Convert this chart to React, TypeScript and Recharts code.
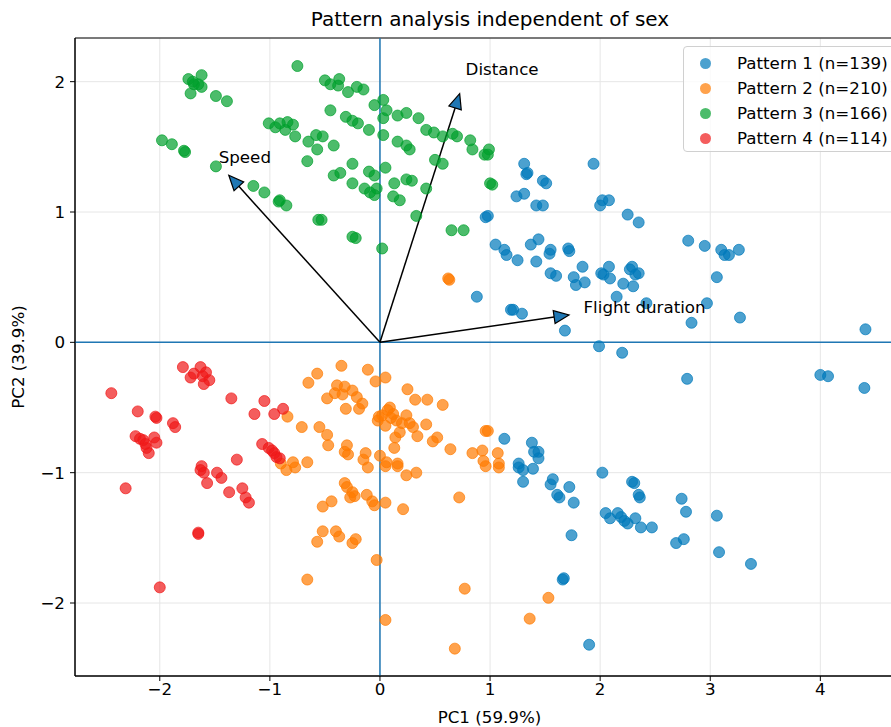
import { ScatterChart, Scatter, XAxis, YAxis, CartesianGrid, ReferenceLine, ReferenceArea, ReferenceDot } from 'recharts'

const FONT = '"DejaVu Sans", sans-serif'
const FS = 16.7

const seriesNames = ['Pattern 1 (n=139)', 'Pattern 2 (n=210)', 'Pattern 3 (n=166)', 'Pattern 4 (n=114)']
const seriesColors = ['#0079bb', '#ff7a00', '#00a02c', '#f01818']

const pattern1: [number, number][] = [
  [0.96, 0.96], [0.98, 0.97], [1.31, 1.37], [1.33, 1.29], [1.34, 1.3], [1.48, 1.24], [1.51, 1.22],
  [1.24, 1.12], [1.31, 1.14], [1.42, 1.05], [1.48, 1.05], [1.94, 1.37], [2.02, 1.09], [2.08, 1.09],
  [2.0, 1.05], [2.25, 0.98], [2.35, 0.92], [1.05, 0.75], [1.13, 0.71], [1.37, 0.75], [1.44, 0.79],
  [1.55, 0.71], [1.71, 0.72], [1.72, 0.7], [2.8, 0.78], [2.95, 0.74], [3.1, 0.71], [3.26, 0.71],
  [1.15, 0.67], [1.25, 0.63], [1.42, 0.62], [1.54, 0.68], [1.55, 0.53], [1.6, 0.51], [1.76, 0.5],
  [1.78, 0.44], [1.86, 0.46], [1.84, 0.58], [2.01, 0.53], [2.08, 0.58], [2.09, 0.49], [2.03, 0.52],
  [2.27, 0.56], [2.32, 0.52], [2.21, 0.45], [2.3, 0.43], [2.35, 0.53], [2.29, 0.58], [2.15, 0.35],
  [2.42, 0.3], [1.19, 0.25], [1.21, 0.25], [1.29, 0.22], [1.68, 0.09], [1.99, -0.03], [2.2, -0.08],
  [2.79, -0.28], [2.83, 0.15], [3.13, 0.67], [3.17, 0.67], [3.06, 0.5], [2.97, 0.3], [3.27, 0.19],
  [4.41, 0.1], [4.0, -0.25], [4.07, -0.26], [4.4, -0.35], [0.88, 0.35], [1.13, -0.74], [1.38, -0.77],
  [1.4, -0.84], [1.44, -0.84], [1.44, -0.89], [1.26, -0.93], [1.26, -0.96], [1.3, -0.98], [1.39, -0.97],
  [1.3, -1.07], [1.55, -1.09], [1.57, -1.05], [1.61, -1.17], [1.63, -1.19], [1.72, -1.11], [1.76, -1.23],
  [1.74, -1.48], [1.66, -1.82], [1.67, -1.81], [1.9, -2.32], [2.02, -1.0], [2.05, -1.31], [2.09, -1.35],
  [2.16, -1.31], [2.19, -1.34], [2.22, -1.37], [2.25, -1.39], [2.32, -1.35], [2.37, -1.42], [2.47, -1.42],
  [2.29, -1.07], [2.31, -1.08], [2.35, -1.17], [2.36, -1.19], [2.74, -1.2], [2.78, -1.3], [2.69, -1.54],
  [2.76, -1.51], [3.06, -1.33], [3.08, -1.61], [3.37, -1.7],
]

const pattern2: [number, number][] = [
  [0.63, 0.48], [0.62, 0.49], [-0.35, -0.18], [-0.11, -0.21], [-0.57, -0.24], [-0.65, -0.31], [-0.04, -0.3],
  [0.05, -0.27], [-0.39, -0.33], [-0.32, -0.34], [-0.25, -0.37], [-0.21, -0.42], [-0.16, -0.47], [-0.48, -0.43],
  [-0.41, -0.39], [-0.34, -0.4], [-0.31, -0.51], [-0.19, -0.51], [0.25, -0.36], [0.32, -0.44], [0.43, -0.44],
  [0.57, -0.48], [0.09, -0.5], [0.12, -0.55], [0.02, -0.56], [-0.02, -0.6], [0.05, -0.64], [0.15, -0.6],
  [0.24, -0.56], [0.27, -0.62], [0.3, -0.65], [0.18, -0.69], [0.34, -0.72], [0.42, -0.63], [0.14, -0.73],
  [0.13, -0.81], [0.52, -0.73], [0.48, -0.76], [0.64, -0.82], [0.07, -0.52], [0.1, -0.58], [0.2, -0.62],
  [-0.01, -0.57], [-0.84, -0.57], [-0.71, -0.65], [-0.55, -0.65], [-0.48, -0.71], [-0.47, -0.79], [-0.3, -0.79],
  [-0.32, -0.84], [-0.29, -0.86], [-0.13, -0.85], [-0.15, -0.9], [0.0, -0.87], [-0.79, -0.92], [-0.66, -0.92],
  [0.84, -0.85], [0.93, -0.83], [0.96, -0.68], [0.94, -0.91], [0.06, -0.92], [0.16, -0.93], [-0.77, -0.96],
  [-0.11, -0.96], [0.05, -0.95], [0.16, -0.95], [0.24, -1.02], [0.33, -1.0], [-0.32, -1.08], [-0.3, -1.11],
  [-0.25, -1.15], [-0.23, -1.18], [-0.27, -1.19], [-0.12, -1.17], [-0.07, -1.22], [-0.05, -1.25], [0.05, -1.23],
  [0.21, -1.28], [-0.44, -1.22], [-0.52, -1.26], [0.72, -1.19], [-0.52, -1.45], [-0.4, -1.45], [-0.37, -1.49],
  [-0.57, -1.53], [-0.25, -1.54], [-0.22, -1.51], [-0.03, -1.67], [-0.66, -1.82], [0.77, -1.89], [0.05, -2.13],
  [0.68, -2.35], [1.08, -0.96], [0.96, -0.95], [1.53, -1.96], [1.36, -2.12], [0.98, -0.68], [1.07, -0.85],
  [1.08, -0.93], [-0.9, -0.93], [-0.85, -0.98],
]

const pattern3: [number, number][] = [
  [-1.74, 2.02], [-1.69, 1.98], [-1.62, 2.05], [-1.62, 1.96], [-1.72, 1.91], [-1.65, 1.98], [-1.7, 2.0],
  [-1.49, 1.89], [-1.39, 1.85], [-1.01, 1.68], [-0.95, 1.65], [-1.98, 1.55], [-1.89, 1.52], [-1.78, 1.47],
  [-1.77, 1.46], [-1.49, 1.35], [-1.15, 1.2], [-1.05, 1.15], [-0.92, 1.08], [-0.75, 2.12], [-0.5, 2.01],
  [-0.45, 1.98], [-0.37, 2.02], [-0.38, 1.97], [-0.29, 1.92], [-0.21, 1.96], [-0.15, 1.94], [-0.05, 1.82],
  [0.03, 1.86], [0.06, 1.78], [0.03, 1.72], [-0.45, 1.78], [-0.31, 1.73], [-0.25, 1.7], [-0.2, 1.68],
  [-0.1, 1.63], [0.16, 1.74], [0.24, 1.76], [0.35, 1.72], [-0.84, 1.69], [-0.79, 1.67], [-0.86, 1.63],
  [-0.77, 1.58], [-0.91, 1.68], [-0.65, 1.54], [-0.58, 1.59], [-0.52, 1.58], [-0.57, 1.48], [-0.42, 1.51],
  [0.03, 1.59], [0.16, 1.54], [0.24, 1.51], [0.27, 1.48], [0.42, 1.63], [0.49, 1.61], [0.57, 1.58],
  [0.66, 1.6], [0.7, 1.58], [0.82, 1.55], [0.84, 1.48], [0.95, 1.44], [-0.66, 1.39], [-0.25, 1.37],
  [-0.42, 1.28], [-0.36, 1.3], [-0.25, 1.22], [-0.1, 1.31], [-0.05, 1.28], [0.05, 1.34], [-0.14, 1.18],
  [-0.09, 1.15], [-0.05, 1.13], [-0.03, 1.18], [0.13, 1.22], [0.12, 1.12], [0.18, 1.09], [0.24, 1.25],
  [0.29, 1.24], [0.42, 1.18], [0.5, 1.4], [0.57, 1.37], [-0.91, 1.09], [-0.85, 1.05], [-0.56, 0.94],
  [-0.53, 0.94], [0.33, 0.97], [0.65, 0.86], [0.76, 0.86], [-0.25, 0.81], [-0.22, 0.8], [0.02, 0.72],
  [0.99, 1.48], [0.98, 1.44], [1.02, 1.21], [1.0, 1.22],
]

const pattern4: [number, number][] = [
  [-2.44, -0.39], [-1.79, -0.19], [-1.72, -0.27], [-1.63, -0.19], [-1.58, -0.23], [-1.55, -0.29], [-1.6, -0.32],
  [-1.69, -0.24], [-1.61, -0.26], [-1.35, -0.43], [-2.2, -0.53], [-2.03, -0.58], [-2.04, -0.57], [-1.88, -0.62],
  [-1.86, -0.65], [-2.22, -0.72], [-2.15, -0.75], [-2.12, -0.81], [-2.1, -0.85], [-2.05, -0.73], [-2.03, -0.77],
  [-2.18, -0.74], [-2.13, -0.78], [-1.14, -0.55], [-1.05, -0.45], [-0.96, -0.55], [-0.88, -0.51], [-1.07, -0.78],
  [-1.01, -0.81], [-0.96, -0.85], [-0.94, -0.88], [-0.98, -0.83], [-0.91, -0.89], [-1.3, -0.9], [-1.62, -0.95],
  [-2.31, -1.12], [-1.63, -0.98], [-1.6, -1.0], [-1.57, -1.08], [-1.48, -1.0], [-1.44, -1.04], [-1.37, -1.15],
  [-1.25, -1.12], [-1.22, -1.19], [-1.19, -1.23], [-1.65, -1.47], [-1.65, -1.46], [-2.0, -1.88],
]

const patterns = [pattern1, pattern2, pattern3, pattern4]

// loading vectors drawn as arrows from the origin
const loadingNames = ['Speed', 'Distance', 'Flight duration']
const loadingX = [-1.373, 0.724, 1.717]
const loadingY = [1.282, 1.908, 0.21]
const labelX = [-1.465, 0.778, 1.849]
const labelY = [1.376, 2.051, 0.225]

const xTicks = [-2, -1, 0, 1, 2, 3, 4]
const yTicks = [-2, -1, 0, 1, 2]
const X_DOMAIN: [number, number] = [-2.77, 4.76]
const Y_DOMAIN: [number, number] = [-2.56, 2.335]

const fmt = (v: number) => String(v).replace('-', '\u2212')

function Dot(color: string) {
  return (p: any) => (
    <circle cx={p.cx} cy={p.cy} r={5.5} fill={color} fillOpacity={0.7} stroke={color} strokeOpacity={0.7} strokeWidth={1} />
  )
}

function Arrow(props: any) {
  const { x1, y1, x2, y2 } = props
  const dx = x2 - x1
  const dy = y2 - y1
  const len = Math.hypot(dx, dy)
  const ux = dx / len
  const uy = dy / len
  const hl = 15
  const hw = 6.5
  const bx = x2 - ux * hl
  const by = y2 - uy * hl
  const pts = `${x2},${y2} ${bx - uy * hw},${by + ux * hw} ${bx + uy * hw},${by - ux * hw}`
  return (
    <g>
      <line x1={x1} y1={y1} x2={bx} y2={by} stroke="#000" strokeWidth={1.5} />
      <polygon points={pts} fill="#1f77b4" stroke="#000" strokeWidth={1.2} />
    </g>
  )
}

export default function App() {
  return (
    <div style={{ position: 'fixed', left: 0, top: 0, width: 891, height: 727, overflow: 'hidden', background: '#fff', fontFamily: FONT }}>
      <div style={{ position: 'absolute', left: 190, width: 600, top: 7, textAlign: 'center', fontSize: 20, lineHeight: '24px', color: '#000' }}>
        Pattern analysis independent of sex
      </div>
      <ScatterChart width={930} height={727} margin={{ top: 38, right: 26, bottom: 0, left: 0 }}>
        <CartesianGrid stroke="#e6e6e6" strokeWidth={1} />
        <ReferenceArea x1={X_DOMAIN[0]} x2={X_DOMAIN[1]} y1={Y_DOMAIN[0]} y2={Y_DOMAIN[1]} fill="none" stroke="#000" strokeWidth={1} />
        <XAxis
          type="number"
          dataKey="x"
          domain={X_DOMAIN}
          ticks={xTicks}
          allowDataOverflow
          height={51}
          tickFormatter={fmt}
          tickSize={5}
          tickMargin={2}
          axisLine={{ stroke: '#000' }}
          tickLine={{ stroke: '#000' }}
          tick={{ fill: '#000', fontSize: FS, fontFamily: FONT }}
          label={{ value: 'PC1 (59.9%)', position: 'insideBottom', offset: 4, fill: '#000', fontSize: FS, fontFamily: FONT }}
        />
        <YAxis
          type="number"
          dataKey="y"
          domain={Y_DOMAIN}
          ticks={yTicks}
          allowDataOverflow
          width={75}
          tickFormatter={fmt}
          tickSize={5}
          tickMargin={5}
          axisLine={{ stroke: '#000' }}
          tickLine={{ stroke: '#000' }}
          tick={{ fill: '#000', fontSize: FS, fontFamily: FONT }}
          label={{ value: 'PC2 (39.9%)', angle: -90, position: 'insideLeft', offset: 18, fill: '#000', fontSize: FS, fontFamily: FONT, style: { textAnchor: 'middle' } }}
        />
        {patterns.map((pts, i) => (
          <Scatter
            key={seriesNames[i]}
            name={seriesNames[i]}
            data={pts.map(([x, y]) => ({ x, y }))}
            fill={seriesColors[i]}
            shape={Dot(seriesColors[i])}
            isAnimationActive={false}
          />
        ))}
        <ReferenceLine y={0} stroke="#1f77b4" strokeWidth={1.5} />
        <ReferenceLine x={0} stroke="#1f77b4" strokeWidth={1.5} />
        {loadingNames.map((n, i) => (
          <ReferenceLine
            key={n}
            segment={[{ x: 0, y: 0 }, { x: loadingX[i], y: loadingY[i] }]}
            shape={Arrow}
          />
        ))}
        {loadingNames.map((n, i) => (
          <ReferenceDot
            key={'l' + n}
            x={labelX[i]}
            y={labelY[i]}
            r={0}
            shape={(p: any) => (
              <text x={p.cx} y={p.cy} fontSize={FS} fontFamily={FONT} fill="#000">
                {n}
              </text>
            )}
          />
        ))}
      </ScatterChart>
      <div
        style={{
          position: 'absolute',
          left: 683,
          top: 46,
          width: 215,
          height: 106,
          boxSizing: 'border-box',
          border: '1px solid #d0d0d0',
          borderRadius: 4,
          background: 'rgba(255,255,255,0.8)',
        }}
      >
        {seriesNames.map((n, i) => (
          <div key={n} style={{ position: 'absolute', left: 0, top: 5 + i * 25, height: 22, width: 215 }}>
            <span
              style={{
                position: 'absolute',
                left: 16,
                top: 5.5,
                width: 11,
                height: 11,
                borderRadius: '50%',
                background: seriesColors[i],
                opacity: 0.7,
              }}
            />
            <span style={{ position: 'absolute', left: 53, top: 0, fontSize: FS, lineHeight: '22px', whiteSpace: 'nowrap', color: '#000' }}>{n}</span>
          </div>
        ))}
      </div>
    </div>
  )
}
